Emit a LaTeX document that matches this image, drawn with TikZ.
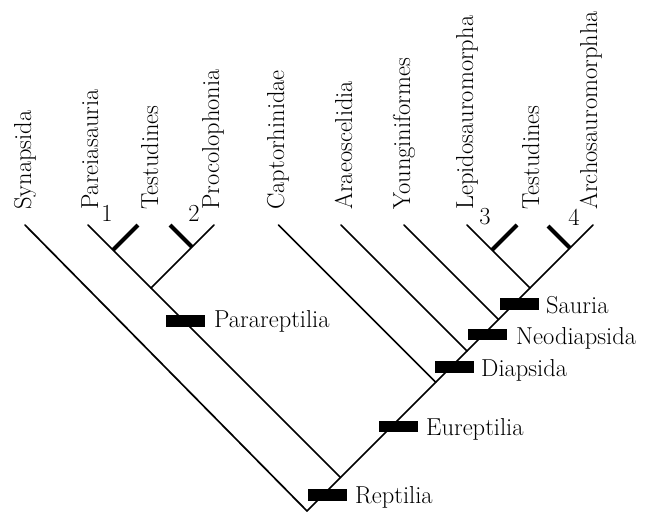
\documentclass[tikz,border=0pt]{standalone}
\usepackage{fontspec}
\begin{document}
\begin{tikzpicture}[x=1pt,y=-1pt,
  br/.style={line width=1.7pt,line cap=round},
  tk/.style={line width=4pt},
  bar/.style={fill=black,minimum width=39pt,minimum height=11.5pt,inner sep=0pt,draw=none},
  lab/.style={font=\fontsize{24.5}{28}\selectfont,inner sep=0pt,anchor=base west},
  tax/.style={font=\fontsize{24.5}{28}\selectfont,inner sep=0pt,anchor=base west,rotate=90},
  num/.style={font=\fontsize{24.5}{28}\selectfont,inner sep=0pt,anchor=center}]
\useasboundingbox (0,0) rectangle (650,511);
% trunk coordinates
\coordinate (root) at (307,511);
\coordinate (npara) at (340.5,477.5);
\coordinate (ncapt) at (435.75,382.25);
\coordinate (narae) at (467,351);
\coordinate (nyoung) at (498.5,319.5);
\coordinate (nsaur) at (530,288);
% tips
\coordinate (tsyn) at (25,225);
\coordinate (tpar) at (88,225);
\coordinate (tproc) at (214,225);
\coordinate (tcapt) at (278.5,225);
\coordinate (tarae) at (341,225);
\coordinate (tyoung) at (404,225);
\coordinate (tlep) at (467,225);
\coordinate (tarch) at (593,225);
% inner nodes and ticks
\coordinate (npp) at (151,288);
\coordinate (n1) at (113,250);
\coordinate (t1) at (138,225);
\coordinate (n2) at (192,247);
\coordinate (t2) at (170,225);
\coordinate (n3) at (492,250);
\coordinate (t3) at (517,225);
\coordinate (n4) at (570,248);
\coordinate (t4) at (548,226);
% branches
\draw[br] (tsyn) -- (root) -- (tarch);
\draw[br] (npara) -- (tpar);
\draw[br] (npp) -- (tproc);
\draw[br] (ncapt) -- (tcapt);
\draw[br] (narae) -- (tarae);
\draw[br] (nyoung) -- (tyoung);
\draw[br] (nsaur) -- (tlep);
\draw[tk] (n1) -- (t1);
\draw[tk] (n2) -- (t2);
\draw[tk] (n3) -- (t3);
\draw[tk] (n4) -- (t4);
% bars
\node[bar] (brep) at (327.5,495) {};
\node[bar] (bpar) at (185.5,321) {};
\node[bar] (beur) at (398,426.5) {};
\node[bar] (bdia) at (454,367) {};
\node[bar] (bneo) at (487.5,334.5) {};
\node[bar] (bsau) at (519,304) {};
% clade labels
\node[lab] (lrep) at (355,503) {Reptilia};
\node[lab] (lpar) at (214,327) {Parareptilia};
\node[lab] (leur) at (426,435) {Eureptilia};
\node[lab] (ldia) at (481,376) {Diapsida};
\node[lab] (lneo) at (516,344) {Neodiapsida};
\node[lab] (lsau) at (546,313) {Sauria};
% taxon labels
\node[tax] (xsyn) at (31,210) {Synapsida};
\node[tax] (xpar) at (98,210) {Pareiasauria};
\node[tax] (xtes1) at (158,210) {Testudines};
\node[tax] (xproc) at (219,210) {Procolophonia};
\node[tax] (xcapt) at (284,210) {Captorhinidae};
\node[tax] (xarae) at (352,210) {Araeoscelidia};
\node[tax] (xyoung) at (410,210) {Younginiformes};
\node[tax] (xlep) at (473,210) {Lepidosauromorpha};
\node[tax] (xtes2) at (539,210) {Testudines};
\node[tax] (xarch) at (597,210) {Archosauromorphha};
% numbers
\node[num] (k1) at (107,213) {1};
\node[num] (k2) at (194,213) {2};
\node[num] (k3) at (485,217) {3};
\node[num] (k4) at (574,217) {4};
\end{tikzpicture}
\end{document}
